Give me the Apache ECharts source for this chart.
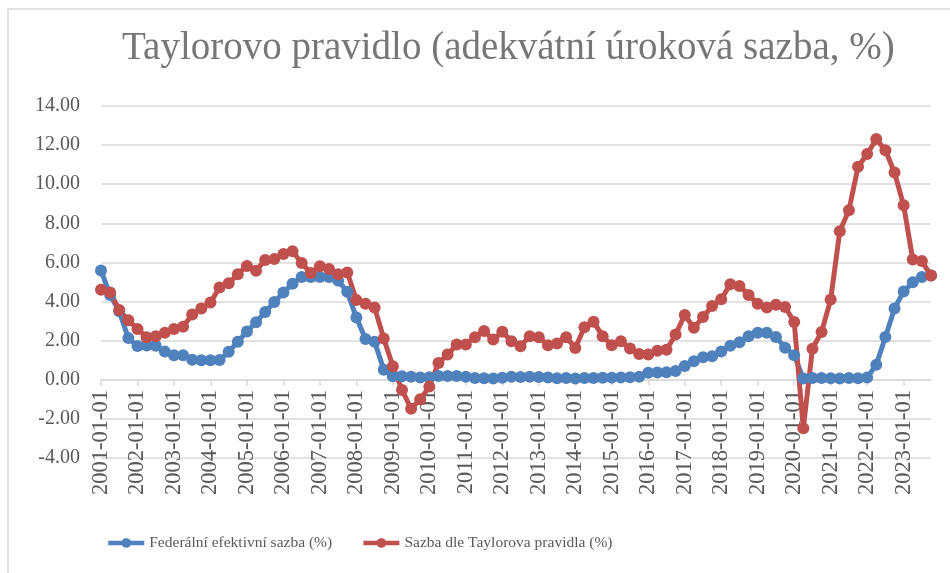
<!DOCTYPE html>
<html>
<head>
<meta charset="utf-8">
<script src="https://cdn.jsdelivr.net/npm/echarts@6/dist/echarts.min.js"></script>
<style>
  html, body { margin: 0; padding: 0; background: #fff; }
  #chart { width: 950px; height: 573px; }
</style>
</head>
<body>
<div id="chart"></div>
<script>
// roky a čtvrtletí (osa x)
var years = [2001, 2002, 2003, 2004, 2005, 2006, 2007, 2008, 2009, 2010, 2011, 2012,
  2013, 2014, 2015, 2016, 2017, 2018, 2019, 2020, 2021, 2022, 2023];
var quarterMonths = ['01', '04', '07', '10'];

// Federální efektivní sazba (%)
var fedRate = [
  5.59, 4.33, 3.50, 2.13, 1.73, 1.75, 1.74, 1.44, 1.25, 1.25, 1.02, 1.00,
  1.00, 1.01, 1.43, 1.95, 2.47, 2.94, 3.46, 3.98, 4.46, 4.91, 5.25, 5.25,
  5.26, 5.25, 5.07, 4.50, 3.18, 2.09, 1.94, 0.51, 0.18, 0.18, 0.16, 0.12,
  0.13, 0.19, 0.19, 0.19, 0.16, 0.09, 0.08, 0.07, 0.10, 0.15, 0.14, 0.16,
  0.14, 0.12, 0.08, 0.09, 0.07, 0.09, 0.09, 0.10, 0.11, 0.12, 0.13, 0.16,
  0.36, 0.37, 0.39, 0.45, 0.70, 0.95, 1.15, 1.20, 1.45, 1.74, 1.92, 2.22,
  2.40, 2.40, 2.19, 1.64, 1.26, 0.06, 0.09, 0.09, 0.08, 0.07, 0.09, 0.08,
  0.12, 0.77, 2.19, 3.65, 4.52, 4.99, 5.26, 5.33
];

// Sazba dle Taylorova pravidla (%)
var taylorRate = [
  4.60, 4.46, 3.57, 3.04, 2.60, 2.18, 2.23, 2.40, 2.60, 2.71, 3.34, 3.64,
  3.95, 4.72, 4.94, 5.40, 5.82, 5.58, 6.13, 6.17, 6.43, 6.57, 5.97, 5.46,
  5.80, 5.66, 5.40, 5.49, 4.08, 3.89, 3.69, 2.11, 0.69, -0.52, -1.48, -1.00,
  -0.35, 0.86, 1.29, 1.80, 1.80, 2.18, 2.49, 2.06, 2.45, 1.97, 1.72, 2.23,
  2.18, 1.77, 1.85, 2.18, 1.63, 2.69, 2.97, 2.23, 1.77, 1.97, 1.60, 1.32,
  1.29, 1.49, 1.54, 2.32, 3.31, 2.66, 3.21, 3.77, 4.12, 4.89, 4.80, 4.34,
  3.89, 3.69, 3.84, 3.72, 2.96, -2.48, 1.59, 2.44, 4.10, 7.60, 8.67, 10.89,
  11.54, 12.31, 11.74, 10.60, 8.92, 6.15, 6.07, 5.33
];

var seriesNames = ['Federální efektivní sazba (%)', 'Sazba dle Taylorova pravidla (%)'];
var chartTitle = 'Taylorovo pravidlo (adekvátní úroková sazba, %)';

var dates = [];
years.forEach(function (y) {
  quarterMonths.forEach(function (m) {
    dates.push(y + '-' + m + '-01');
  });
});
dates = dates.slice(0, fedRate.length);

var font = 'Liberation Serif';
var gray = '#595959';

var myChart = echarts.init(document.getElementById('chart'));

var option = {
  backgroundColor: '#fff',
  animation: false,
  graphic: [{
    type: 'rect',
    shape: { x: 8, y: 9, width: 980, height: 600 },
    style: { fill: 'none', stroke: '#d9d9d9', lineWidth: 1.5 },
    silent: true
  }, {
    type: 'text',
    left: 122,
    top: 29,
    style: {
      text: chartTitle,
      fontFamily: font,
      fontSize: 39,
      fill: '#767676'
    }
  }],
  legend: {
    left: 106,
    top: 535,
    padding: 0,
    itemWidth: 36,
    itemHeight: 12,
    itemGap: 29,
    lineStyle: { width: 4.5 },
    textStyle: { fontFamily: font, fontSize: 15.5, color: gray },
    data: seriesNames
  },
  grid: {
    left: 101,
    right: 19,
    top: 106,
    bottom: 573 - 458,
    containLabel: false
  },
  xAxis: {
    type: 'category',
    data: dates,
    boundaryGap: false,
    axisLine: { onZero: true, lineStyle: { color: '#d9d9d9', width: 1.5 } },
    axisTick: {
      show: true,
      interval: 3,
      length: 6,
      lineStyle: { color: '#d9d9d9', width: 1.5 }
    },
    axisLabel: {
      interval: 3,
      rotate: 90,
      // popisky těsně pod nulovou osou (ne pod spodkem grafu)
      margin: -68,
      fontFamily: font,
      fontSize: 22.5,
      color: gray
    },
    splitLine: { show: false }
  },
  yAxis: {
    type: 'value',
    min: -4,
    max: 14,
    interval: 2,
    axisLine: { show: false },
    axisTick: { show: false },
    axisLabel: {
      margin: 21,
      fontFamily: font,
      fontSize: 20,
      color: gray,
      formatter: function (v) { return v.toFixed(2); }
    },
    splitLine: { lineStyle: { color: '#d9d9d9', width: 1.5 } }
  },
  series: [{
    name: seriesNames[0],
    type: 'line',
    data: fedRate,
    symbol: 'circle',
    symbolSize: 12,
    showAllSymbol: true,
    lineStyle: { color: '#4f81bd', width: 5 },
    itemStyle: { color: '#4f81bd' }
  }, {
    name: seriesNames[1],
    type: 'line',
    data: taylorRate,
    symbol: 'circle',
    symbolSize: 12,
    showAllSymbol: true,
    lineStyle: { color: '#c0504d', width: 5 },
    itemStyle: { color: '#c0504d' }
  }]
};

myChart.setOption(option);
</script>
</body>
</html>
